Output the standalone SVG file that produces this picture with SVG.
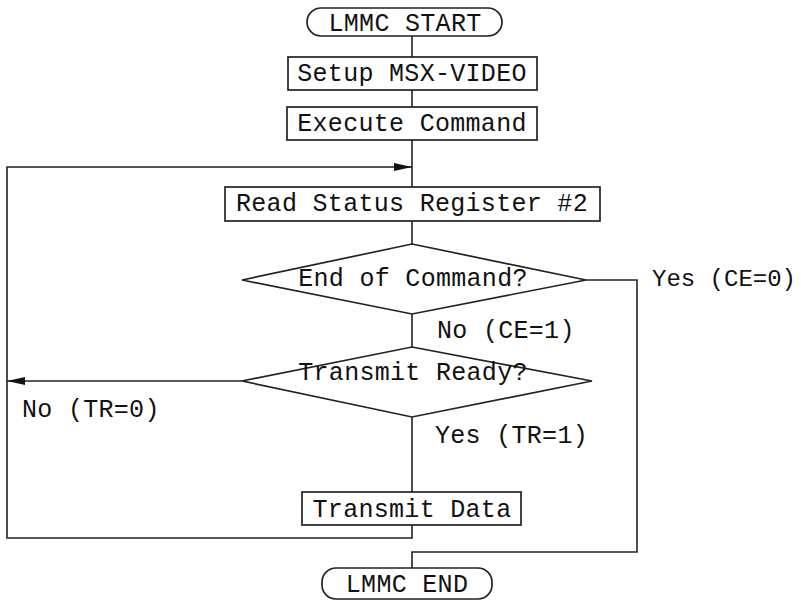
<svg xmlns="http://www.w3.org/2000/svg" width="801" height="601" viewBox="0 0 801 601">
<style>
.s{fill:#fff;stroke:#222;stroke-width:1.7}
.c{fill:none;stroke:#222;stroke-width:1.6}
text{font-family:"Liberation Mono","Courier New",monospace;font-size:25px;fill:#111;letter-spacing:0.3px}
.m{text-anchor:middle}
.n{font-size:24px;letter-spacing:0}
</style>
<defs>
<marker id="ah" markerUnits="userSpaceOnUse" markerWidth="18" markerHeight="10" refX="18" refY="5" orient="auto">
<path d="M0,1 L18,5 L0,9 Z" fill="#111"/>
</marker>
</defs>
<rect width="801" height="601" fill="#fff"/>
<g id="connectors">
<path class="c" d="M412,36 V57"/>
<path class="c" d="M412,90 V107"/>
<path class="c" d="M412,140 V187"/>
<path class="c" d="M412,221 V244"/>
<path class="c" d="M412,314 V347"/>
<path class="c" d="M412,417 V492"/>
<path class="c" d="M412,525 V538 H7 V167 H412" marker-end="url(#ah)"/>
<path class="c" d="M242,381 H7" marker-end="url(#ah)"/>
<path class="c" d="M586,280 H637 V552 H412 V568"/>
</g>
<g id="start">
<rect class="s" x="307" y="8" width="195" height="28" rx="14" ry="14"/>
<text class="m" x="405" y="31">LMMC START</text>
</g>
<g id="setup">
<rect class="s" x="288" y="57" width="249" height="33"/>
<text class="m" x="412" y="81">Setup MSX-VIDEO</text>
</g>
<g id="execute">
<rect class="s" x="287" y="107" width="250" height="33"/>
<text class="m" x="412" y="131">Execute Command</text>
</g>
<g id="read">
<rect class="s" x="225" y="187" width="375" height="34"/>
<text class="m" x="412" y="211">Read Status Register #2</text>
</g>
<g id="endcmd">
<polygon class="s" points="412,244 586,280 412,314 242,280"/>
<text class="m" x="413" y="286">End of Command?</text>
</g>
<g id="ready">
<polygon class="s" points="412,347 592,381 412,417 242,381"/>
<text class="m" x="413" y="380">Transmit Ready?</text>
</g>
<g id="transmit">
<rect class="s" x="302" y="492" width="219" height="33"/>
<text class="m" x="412" y="517">Transmit Data</text>
</g>
<g id="end">
<rect class="s" x="322" y="568" width="170" height="31" rx="14" ry="14"/>
<text class="m" x="407" y="592">LMMC END</text>
</g>
<g id="labels">
<text x="437" y="338">No (CE=1)</text>
<text class="n" x="652" y="286">Yes (CE=0)</text>
<text x="22" y="417">No (TR=0)</text>
<text x="435" y="443">Yes (TR=1)</text>
</g>
</svg>
